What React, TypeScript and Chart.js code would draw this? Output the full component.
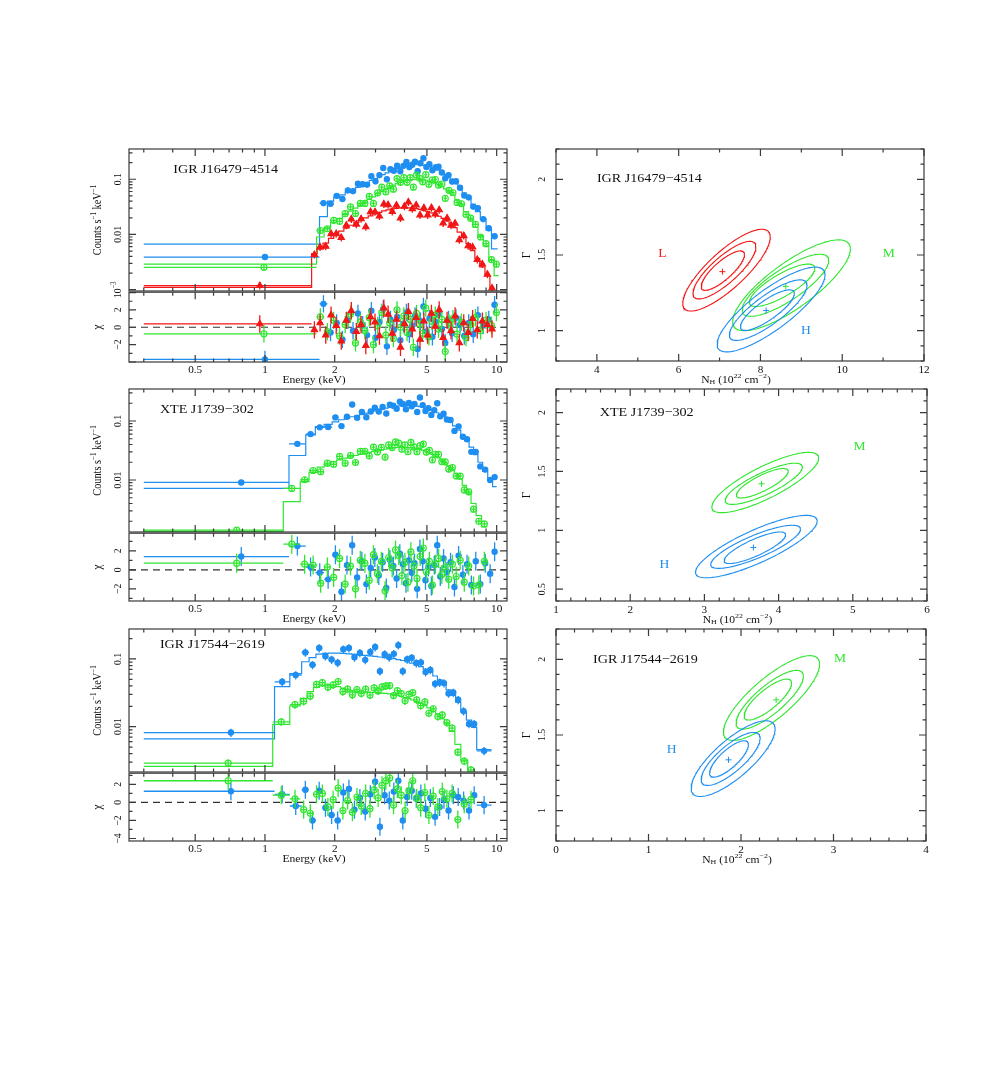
import React, { useEffect, useRef } from 'react';
import { Chart, registerables } from 'chart.js';
Chart.register(...registerables);

// ---------------- colours / fonts ----------------
const BLUE = '#1f8ef1';
const GREEN = '#30e630';
const RED = '#f21616';
const FRAME = '#3a3a3a';
const INK = '#111111';
const SERIF = '"Liberation Serif", "DejaVu Serif", serif';

// ---------------- axis ticks ----------------
const E_MAJOR = [0.5, 1, 2, 5, 10];
const E_MINOR = [0.3, 0.4, 0.6, 0.7, 0.8, 0.9, 3, 4, 6, 7, 8, 9];
const E_LABELS = [[0.5, '0.5'], [1, '1'], [2, '2'], [5, '5'], [10, '10']];
const C_MAJOR = [0.001, 0.01, 0.1];
const C_MINOR = [0.002, 0.003, 0.004, 0.005, 0.006, 0.007, 0.008, 0.009, 0.02, 0.03, 0.04, 0.05, 0.06, 0.07, 0.08, 0.09, 0.2, 0.3];
const C_LABELS_P1 = [[0.001, [['10', 'n'], ['\u22123', 'sup']]], [0.01, '0.01'], [0.1, '0.1']];
const C_LABELS = [[0.01, '0.01'], [0.1, '0.1']];
const CHI_MAJOR = [-4, -2, 0, 2, 4];
const CHI_MINOR = [-3, -1, 1, 3];
const CHI_LABELS = [[-2, '\u22122'], [0, '0'], [2, '2']];
const CHI_LABELS_P3 = [[-4, '\u22124'], [-2, '\u22122'], [0, '0'], [2, '2']];

// ---------------- panel 1 : IGR J16479-4514 (spectra) ----------------
const P1_BLUE_LOWE = 1.0;
const P1_BLUE_ERR = 0.12;
const P1_BLUE_EDGES = [0.3, 1.72, 1.86, 1.98, 2.1, 2.22, 2.34, 2.46, 2.58, 2.7, 2.82, 2.94, 3.06, 3.18, 3.3, 3.42, 3.54, 3.66, 3.78, 3.9, 4.02, 4.14, 4.26, 4.38, 4.5, 4.62, 4.76, 4.9, 5.05, 5.2, 5.36, 5.52, 5.7, 5.9, 6.1, 6.3, 6.55, 6.8, 7.1, 7.4, 7.75, 8.1, 8.5, 9.0, 9.5, 10.1];
const P1_BLUE_MODEL = [0.0067, 0.021, 0.040, 0.047, 0.052, 0.058, 0.064, 0.071, 0.079, 0.087, 0.095, 0.103, 0.112, 0.121, 0.130, 0.139, 0.147, 0.155, 0.162, 0.168, 0.174, 0.178, 0.181, 0.183, 0.183, 0.182, 0.179, 0.175, 0.170, 0.163, 0.155, 0.146, 0.135, 0.123, 0.110, 0.097, 0.083, 0.068, 0.056, 0.045, 0.035, 0.026, 0.019, 0.012, 0.0055];
const P1_BLUE_COUNTS = [0.0039, 0.037, 0.036, 0.050, 0.044, 0.063, 0.061, 0.083, 0.081, 0.080, 0.113, 0.092, 0.119, 0.160, 0.100, 0.152, 0.143, 0.176, 0.140, 0.175, 0.205, 0.166, 0.184, 0.207, 0.140, 0.195, 0.240, 0.167, 0.187, 0.146, 0.164, 0.168, 0.133, 0.104, 0.119, 0.091, 0.092, 0.070, 0.051, 0.047, 0.032, 0.030, 0.019, 0.013, 0.0093];
const P1_BLUE_CHI = [-3.7, 2.7, -0.6, 0.5, -1.4, 0.8, -0.4, 1.6, 0.3, -0.9, 1.9, -1.2, 0.6, 2.1, -2.2, 0.9, -0.3, 1.2, -1.5, 0.4, 1.7, -0.8, 0.2, 1.3, -2.5, 0.7, 2.4, -0.5, 1.0, -1.1, 0.6, 1.5, -0.2, -1.8, 0.9, -0.7, 1.1, 0.3, -1.0, 0.5, -0.8, 1.4, 0.2, 0.9, 2.6];

const P1_GREEN_LOWE = 0.99;
const P1_GREEN_ERR = 0.12;
const P1_GREEN_EDGES = [0.3, 1.67, 1.8, 1.92, 2.04, 2.16, 2.28, 2.4, 2.52, 2.64, 2.76, 2.88, 3.0, 3.13, 3.26, 3.39, 3.52, 3.65, 3.78, 3.91, 4.04, 4.17, 4.3, 4.44, 4.58, 4.72, 4.87, 5.02, 5.18, 5.35, 5.52, 5.7, 5.9, 6.1, 6.35, 6.6, 6.9, 7.2, 7.55, 7.9, 8.3, 8.75, 9.25, 9.75, 10.2];
const P1_GREEN_MODEL = [0.0029, 0.0090, 0.0135, 0.0165, 0.0195, 0.0230, 0.0265, 0.0300, 0.0340, 0.0385, 0.0430, 0.0480, 0.055, 0.060, 0.066, 0.072, 0.078, 0.083, 0.088, 0.092, 0.095, 0.097, 0.099, 0.100, 0.099, 0.098, 0.096, 0.093, 0.089, 0.085, 0.080, 0.074, 0.067, 0.059, 0.051, 0.042, 0.034, 0.026, 0.019, 0.0135, 0.0095, 0.0062, 0.0034, 0.0018];
const P1_GREEN_COUNTS = [0.00254, 0.0118, 0.0127, 0.0180, 0.0172, 0.0238, 0.0315, 0.0240, 0.0365, 0.0365, 0.0490, 0.0365, 0.0565, 0.072, 0.059, 0.076, 0.066, 0.103, 0.088, 0.107, 0.088, 0.107, 0.072, 0.119, 0.104, 0.090, 0.121, 0.081, 0.097, 0.099, 0.078, 0.082, 0.045, 0.063, 0.057, 0.038, 0.036, 0.023, 0.0197, 0.0152, 0.0090, 0.0068, 0.0035, 0.0029];
const P1_GREEN_CHI = [-0.75, 1.2, -0.5, 0.8, -1.0, 0.3, 1.5, -1.8, 0.6, -0.4, 1.1, -2.0, 0.2, 1.7, -0.9, 0.5, -1.3, 2.0, 0.0, 1.3, -0.6, 0.9, -2.3, 1.6, 0.4, -0.7, 2.2, -1.1, 0.7, 1.4, -0.2, 0.9, -2.8, 0.5, 1.0, -0.8, 0.6, -1.2, 0.3, 1.1, -0.4, 0.8, 0.2, 1.7];

const P1_RED_LOWE = 0.95;
const P1_RED_ERR = 0.15;
const P1_RED_EDGES = [0.3, 1.59, 1.68, 1.78, 1.88, 1.98, 2.08, 2.19, 2.3, 2.42, 2.54, 2.66, 2.79, 2.92, 3.05, 3.19, 3.33, 3.47, 3.62, 3.77, 3.92, 4.08, 4.24, 4.41, 4.58, 4.76, 4.94, 5.13, 5.33, 5.54, 5.76, 5.99, 6.23, 6.48, 6.75, 7.05, 7.37, 7.7, 8.05, 8.45, 8.9, 9.35, 9.75];
const P1_RED_MODEL = [0.0011, 0.0045, 0.0055, 0.0070, 0.0085, 0.0100, 0.0115, 0.0130, 0.0147, 0.0165, 0.0183, 0.0200, 0.0218, 0.0235, 0.0252, 0.0267, 0.0280, 0.0290, 0.0298, 0.0303, 0.0305, 0.0304, 0.0300, 0.0293, 0.0284, 0.0273, 0.0260, 0.0246, 0.0231, 0.0214, 0.0196, 0.0176, 0.0155, 0.0133, 0.0110, 0.0088, 0.0068, 0.0051, 0.0037, 0.0026, 0.0018, 0.0011];
const P1_RED_COUNTS = [0.00118, 0.0043, 0.0059, 0.0061, 0.0103, 0.0103, 0.0088, 0.0146, 0.0190, 0.0153, 0.0191, 0.0137, 0.0258, 0.0256, 0.0215, 0.0355, 0.0343, 0.0260, 0.0338, 0.0198, 0.0323, 0.0386, 0.0291, 0.0341, 0.0224, 0.0302, 0.0225, 0.0305, 0.0234, 0.0278, 0.0161, 0.0197, 0.0146, 0.0159, 0.0080, 0.0095, 0.0062, 0.0059, 0.0035, 0.0029, 0.0019, 0.00107];
const P1_RED_CHI = [0.38, -0.3, 0.5, -0.9, 1.4, 0.2, -1.6, 0.8, 1.9, -0.5, 0.3, -2.1, 1.2, 0.6, -1.0, 2.2, 1.5, -0.7, 0.9, -2.3, 0.4, 1.8, -0.2, 1.1, -1.4, 0.7, -0.9, 1.6, 0.1, 2.0, -1.2, 0.8, -0.4, 1.3, -1.8, 0.5, -0.6, 1.0, -0.3, 0.7, 0.3, -0.2];

// ---------------- panel 2 : XTE J1739-302 (spectra) ----------------
const P2_BLUE_LOWE = 0.79;
const P2_BLUE_ERR = 0.10;
const P2_BLUE_EDGES = [0.3, 1.27, 1.5, 1.65, 1.8, 1.95, 2.08, 2.2, 2.32, 2.44, 2.56, 2.68, 2.8, 2.92, 3.04, 3.16, 3.28, 3.4, 3.52, 3.64, 3.76, 3.88, 4.0, 4.12, 4.24, 4.36, 4.48, 4.6, 4.73, 4.86, 5.0, 5.15, 5.3, 5.46, 5.62, 5.8, 6.0, 6.2, 6.45, 6.7, 7.0, 7.3, 7.6, 7.95, 8.3, 8.7, 9.15, 9.6, 10.0];
const P2_BLUE_MODEL = [0.0072, 0.026, 0.058, 0.080, 0.088, 0.097, 0.105, 0.112, 0.118, 0.124, 0.130, 0.136, 0.142, 0.148, 0.154, 0.160, 0.165, 0.170, 0.174, 0.178, 0.181, 0.183, 0.184, 0.184, 0.183, 0.181, 0.178, 0.175, 0.171, 0.166, 0.160, 0.153, 0.146, 0.138, 0.129, 0.119, 0.108, 0.096, 0.083, 0.070, 0.057, 0.046, 0.036, 0.027, 0.020, 0.014, 0.0105, 0.0077];
const P2_BLUE_COUNTS = [0.0091, 0.041, 0.060, 0.078, 0.079, 0.115, 0.082, 0.118, 0.19, 0.114, 0.142, 0.116, 0.145, 0.168, 0.145, 0.173, 0.134, 0.189, 0.181, 0.162, 0.212, 0.194, 0.158, 0.202, 0.178, 0.194, 0.142, 0.250, 0.186, 0.148, 0.165, 0.127, 0.153, 0.20, 0.120, 0.133, 0.106, 0.104, 0.068, 0.081, 0.054, 0.049, 0.030, 0.030, 0.017, 0.015, 0.010, 0.0112];
const P2_BLUE_CHI = [1.4, 2.5, 0.3, -0.3, -1.0, 1.6, -2.3, 0.5, 2.6, -0.8, 0.9, -1.5, 0.2, 1.3, -0.6, 0.8, -1.9, 1.1, 0.4, -0.9, 1.7, 0.6, -1.4, 1.0, -0.3, 0.7, -2.0, 2.2, 0.9, -1.1, 0.3, -1.7, 0.5, 2.6, -0.7, 1.2, -0.2, 0.8, -1.8, 1.5, -0.5, 0.6, -1.6, 0.9, -1.5, 0.7, -0.4, 1.9];

const P2_GREEN_LOWE = 0.755;
const P2_GREEN_ERR = 0.12;
const P2_GREEN_EDGES = [0.3, 1.2, 1.42, 1.55, 1.68, 1.8, 1.92, 2.04, 2.16, 2.28, 2.4, 2.52, 2.64, 2.76, 2.88, 3.0, 3.12, 3.24, 3.36, 3.48, 3.6, 3.72, 3.84, 3.96, 4.08, 4.2, 4.33, 4.46, 4.6, 4.75, 4.9, 5.05, 5.2, 5.36, 5.53, 5.7, 5.9, 6.1, 6.32, 6.56, 6.82, 7.1, 7.4, 7.75, 8.15, 8.6, 9.1];
const P2_GREEN_MODEL = [0.00135, 0.0043, 0.0094, 0.0135, 0.0165, 0.0185, 0.0205, 0.0220, 0.0235, 0.0248, 0.0260, 0.0272, 0.0283, 0.0294, 0.0304, 0.0314, 0.0323, 0.0332, 0.0340, 0.0347, 0.0353, 0.0357, 0.0359, 0.0359, 0.0357, 0.0353, 0.0347, 0.0339, 0.0329, 0.0317, 0.0303, 0.0288, 0.0272, 0.0255, 0.0237, 0.0217, 0.0196, 0.0174, 0.0151, 0.0128, 0.0104, 0.0081, 0.0060, 0.0040, 0.0025, 0.0016];
const P2_GREEN_COUNTS = [0.00142, 0.0072, 0.0101, 0.0145, 0.0138, 0.0193, 0.0185, 0.0252, 0.0193, 0.0260, 0.0198, 0.0305, 0.0307, 0.0255, 0.0362, 0.0299, 0.0358, 0.0245, 0.0393, 0.0355, 0.0442, 0.0421, 0.0333, 0.0393, 0.0301, 0.0433, 0.0364, 0.0302, 0.0384, 0.0405, 0.0296, 0.0319, 0.0220, 0.0273, 0.0271, 0.0204, 0.0203, 0.0153, 0.0162, 0.0117, 0.0116, 0.0068, 0.0063, 0.0032, 0.0020, 0.0018];
const P2_GREEN_CHI = [0.7, 2.7, 0.6, 0.5, -1.4, 0.3, -0.8, 1.2, -1.5, 0.4, -2.0, 1.0, 0.7, -1.1, 1.6, -0.4, 0.9, -2.2, 1.3, 0.2, 2.1, 1.5, -0.6, 0.8, -1.3, 1.9, 0.4, -0.9, 1.4, 2.3, -0.2, 0.9, -1.6, 0.6, 1.2, -0.5, 0.3, -1.0, 0.6, -0.7, 1.0, -1.3, 0.4, -1.7, -1.6, 0.9];

// ---------------- panel 3 : IGR J17544-2619 (spectra) ----------------
const P3_BLUE_LOWE = 0.713;
const P3_BLUE_ERR = 0.14;
const P3_BLUE_EDGES = [0.3, 1.1, 1.28, 1.44, 1.55, 1.66, 1.77, 1.88, 2.0, 2.12, 2.24, 2.37, 2.5, 2.64, 2.78, 2.92, 3.06, 3.21, 3.36, 3.52, 3.68, 3.85, 4.02, 4.2, 4.4, 4.6, 4.82, 5.05, 5.3, 5.55, 5.8, 6.05, 6.35, 6.65, 7.0, 7.4, 7.8, 8.2, 9.5];
const P3_BLUE_MODEL = [0.0066, 0.039, 0.061, 0.091, 0.105, 0.118, 0.121, 0.122, 0.122, 0.121, 0.119, 0.117, 0.115, 0.113, 0.111, 0.109, 0.107, 0.105, 0.103, 0.101, 0.098, 0.095, 0.091, 0.087, 0.082, 0.077, 0.071, 0.064, 0.056, 0.049, 0.042, 0.035, 0.029, 0.023, 0.0165, 0.0125, 0.0098, 0.0046];
const P3_BLUE_COUNTS = [0.0082, 0.046, 0.058, 0.125, 0.082, 0.145, 0.110, 0.098, 0.088, 0.139, 0.145, 0.106, 0.123, 0.097, 0.127, 0.150, 0.066, 0.118, 0.106, 0.119, 0.160, 0.066, 0.099, 0.104, 0.087, 0.089, 0.064, 0.069, 0.043, 0.045, 0.044, 0.031, 0.032, 0.025, 0.017, 0.011, 0.011, 0.0044];
const P3_BLUE_CHI = [1.24, 0.9, -0.4, 1.4, -2.0, 1.3, -0.6, -1.4, -2.0, 1.1, 1.5, -0.8, 0.5, -1.0, 0.9, 2.3, -2.7, 0.8, 0.2, 1.2, 2.4, -2.0, 0.6, 1.3, 0.4, 1.0, -0.7, 0.5, -1.6, -0.5, 0.3, -0.9, 0.8, 0.6, 0.2, -0.9, 0.8, -0.3];

const P3_GREEN_LOWE = 0.694;
const P3_GREEN_ERR = 0.13;
const P3_GREEN_EDGES = [0.3, 1.08, 1.28, 1.42, 1.52, 1.62, 1.72, 1.82, 1.92, 2.02, 2.12, 2.22, 2.33, 2.44, 2.55, 2.66, 2.78, 2.9, 3.02, 3.14, 3.26, 3.39, 3.52, 3.66, 3.8, 3.95, 4.1, 4.26, 4.43, 4.6, 4.8, 5.0, 5.2, 5.45, 5.7, 5.95, 6.25, 6.6, 7.0, 7.5, 8.0];
const P3_GREEN_MODEL = [0.0026, 0.0108, 0.0202, 0.0262, 0.033, 0.038, 0.040, 0.041, 0.040, 0.039, 0.037, 0.035, 0.034, 0.033, 0.0325, 0.032, 0.032, 0.032, 0.0318, 0.0314, 0.031, 0.0305, 0.030, 0.029, 0.028, 0.027, 0.026, 0.0248, 0.0235, 0.022, 0.0205, 0.019, 0.017, 0.015, 0.013, 0.011, 0.0085, 0.0055, 0.0032, 0.0022];
const P3_GREEN_COUNTS = [0.0029, 0.0118, 0.0212, 0.0237, 0.0283, 0.0421, 0.0448, 0.0385, 0.0415, 0.0465, 0.0330, 0.0358, 0.0295, 0.0354, 0.0310, 0.0358, 0.0293, 0.0374, 0.0337, 0.0386, 0.040, 0.0405, 0.0289, 0.0342, 0.0307, 0.0241, 0.0301, 0.0319, 0.0249, 0.0204, 0.0232, 0.0158, 0.0184, 0.0141, 0.0149, 0.0115, 0.0095, 0.0042, 0.0031, 0.0023];
const P3_GREEN_CHI = [2.4, 0.8, 0.4, -0.8, -1.2, 0.9, 1.0, -0.5, 0.3, 1.6, -0.9, 0.2, -1.1, 0.6, -0.4, 1.0, -0.7, 1.4, 0.5, 1.9, 2.4, 2.7, -0.3, 1.5, 0.8, -0.9, 1.3, 2.4, 0.5, -0.6, 1.1, -1.4, 0.7, -0.5, 1.2, 0.4, 1.0, -1.9, -0.2, 0.3];

// ---------------- contours: rows = [centre NH, centre Gamma, half-width NH, half-height Gamma] ----------------
const R1_L_CONT = [[7.17, 1.40, 1.07, 0.27], [7.12, 1.40, 0.77, 0.19], [7.08, 1.397, 0.53, 0.13]];
const R1_M_CONT = [[8.76, 1.30, 1.44, 0.30], [8.61, 1.30, 1.06, 0.205], [8.53, 1.30, 0.80, 0.14]];
const R1_H_CONT = [[8.26, 1.14, 1.32, 0.28], [8.19, 1.136, 0.95, 0.20], [8.17, 1.136, 0.66, 0.134]];
const R1_RHO = [0.81, 0.8, 0.82];
const R1_BEST = [[7.07, 1.39], [8.62, 1.293], [8.14, 1.134]];

const R2_M_CONT = [[3.82, 1.406, 0.72, 0.256], [3.80, 1.395, 0.52, 0.175], [3.78, 1.40, 0.35, 0.125]];
const R2_H_CONT = [[3.70, 0.862, 0.82, 0.265], [3.69, 0.86, 0.605, 0.183], [3.68, 0.852, 0.415, 0.134]];
const R2_RHO = [0.81, 0.82];
const R2_BEST = [[3.77, 1.395], [3.66, 0.854]];

const R3_M_CONT = [[2.33, 1.744, 0.52, 0.28], [2.31, 1.733, 0.364, 0.194], [2.29, 1.734, 0.257, 0.135]];
const R3_H_CONT = [[1.915, 1.344, 0.454, 0.25], [1.888, 1.342, 0.319, 0.175], [1.87, 1.342, 0.21, 0.12]];
const R3_RHO = [0.8, 0.78];
const R3_BEST = [[2.38, 1.732], [1.865, 1.336]];

// ---------------- helpers ----------------
const steps = (a, b, s) => {
  const out = [];
  for (let i = 0; a + i * s <= b + 1e-9; i++) out.push(Math.round((a + i * s) * 1000) / 1000);
  return out;
};

function font(size) {
  return `${size}px ${SERIF}`;
}

function toSegs(t) {
  return typeof t === 'string' ? [[t, 'n']] : t;
}

// text style: size, stretch along text (sx), stretch across text (sy)
const TICK_H = { size: 9.6, sx: 1.17, sy: 1 };
const TICK_V = { size: 9.6, sx: 1, sy: 1.17 };
const XTITLE = { size: 10, sx: 1.16, sy: 1 };
const YTITLE_COUNTS = { size: 10.3, sx: 1, sy: 1.15 };
const YTITLE_SYM = { size: 11, sx: 1, sy: 1.15 };
const NAME = { size: 12.5, sx: 1.13, sy: 1 };
const LETTER = { size: 11.5, sx: 1.18, sy: 1 };

function drawRich(ctx, segsIn, x, y, st, align, rot, color) {
  const segs = toSegs(segsIn);
  const size = st.size;
  ctx.save();
  ctx.translate(x, y);
  ctx.rotate(rot || 0);
  ctx.scale(st.sx, st.sy);
  ctx.fillStyle = color || INK;
  ctx.textBaseline = 'middle';
  ctx.textAlign = 'left';
  const widths = segs.map(([t, k]) => {
    ctx.font = font(k === 'n' ? size : size * 0.68);
    return ctx.measureText(t).width;
  });
  const total = widths.reduce((a, b) => a + b, 0);
  let cx = align === 'left' ? 0 : align === 'right' ? -total : -total / 2;
  segs.forEach(([t, k], i) => {
    ctx.font = font(k === 'n' ? size : size * 0.68);
    const dy = k === 'sup' ? -size * 0.36 : k === 'sub' ? size * 0.25 : 0;
    ctx.fillText(t, cx, dy);
    cx += widths[i];
  });
  ctx.restore();
}

function makePlugin(spec) {
  return {
    id: 'xspecFrame',
    beforeDatasetsDraw(chart) {
      if (!spec.zero) return;
      const { ctx, chartArea: a, scales } = chart;
      const y0 = scales.y.getPixelForValue(0);
      ctx.save();
      ctx.strokeStyle = '#333';
      ctx.lineWidth = 1.1;
      ctx.setLineDash([7, 5]);
      ctx.beginPath();
      ctx.moveTo(a.left, y0);
      ctx.lineTo(a.right, y0);
      ctx.stroke();
      ctx.restore();
    },
    beforeDatasetDraw(chart, args) {
      const ds = chart.data.datasets[args.index];
      if (!ds || !ds.errColor) return;
      const { ctx, chartArea: a, scales } = chart;
      const xs = scales.x;
      const ys = scales.y;
      ctx.save();
      ctx.beginPath();
      ctx.rect(a.left, a.top, a.right - a.left, a.bottom - a.top);
      ctx.clip();
      ctx.strokeStyle = ds.errColor;
      ctx.lineWidth = 1.3;
      ctx.beginPath();
      for (const p of ds.data) {
        const px = xs.getPixelForValue(p.x);
        const py = ys.getPixelForValue(p.y);
        ctx.moveTo(xs.getPixelForValue(p.xl), py);
        ctx.lineTo(xs.getPixelForValue(p.xh), py);
        ctx.moveTo(px, ys.getPixelForValue(p.yl));
        ctx.lineTo(px, ys.getPixelForValue(p.yh));
      }
      ctx.stroke();
      ctx.restore();
    },
    afterDraw(chart) {
      const { ctx, chartArea: a, scales } = chart;
      const xs = scales.x;
      const ys = scales.y;
      const maj = spec.maj || 7;
      const min = spec.min || 3.5;
      ctx.save();
      ctx.strokeStyle = FRAME;
      ctx.lineWidth = 1.2;
      ctx.strokeRect(a.left, a.top, a.right - a.left, a.bottom - a.top);
      ctx.beginPath();
      const xt = (vals, len) => {
        for (const v of vals) {
          const p = xs.getPixelForValue(v);
          if (p < a.left - 0.5 || p > a.right + 0.5) continue;
          ctx.moveTo(p, a.bottom);
          ctx.lineTo(p, a.bottom - len);
          ctx.moveTo(p, a.top);
          ctx.lineTo(p, a.top + len);
        }
      };
      const yt = (vals, len) => {
        for (const v of vals) {
          const p = ys.getPixelForValue(v);
          if (p < a.top - 0.5 || p > a.bottom + 0.5) continue;
          ctx.moveTo(a.left, p);
          ctx.lineTo(a.left + len, p);
          ctx.moveTo(a.right, p);
          ctx.lineTo(a.right - len, p);
        }
      };
      xt(spec.xMajor, maj);
      xt(spec.xMinor, min);
      yt(spec.yMajor, maj);
      yt(spec.yMinor, min);
      ctx.stroke();
      ctx.restore();

      if (spec.xLabels) {
        for (const [v, t] of spec.xLabels) {
          drawRich(ctx, t, xs.getPixelForValue(v), a.bottom + spec.xLabelDy, TICK_H, 'center', 0);
        }
      }
      if (spec.yLabels) {
        for (const [v, t] of spec.yLabels) {
          drawRich(ctx, t, a.left - spec.yLabelDx, ys.getPixelForValue(v), TICK_V, 'center', -Math.PI / 2);
        }
      }
      if (spec.xTitle) {
        drawRich(ctx, spec.xTitle, (a.left + a.right) / 2 + (spec.xTitleDx || 0), a.bottom + spec.xTitleDy, XTITLE, 'center', 0);
      }
      if (spec.yTitle) {
        drawRich(ctx, spec.yTitle, a.left - spec.yTitleDx, (a.top + a.bottom) / 2, spec.yTitleStyle || YTITLE_SYM, 'center', -Math.PI / 2);
      }
      for (const n of spec.notes || []) {
        drawRich(ctx, n.text, xs.getPixelForValue(n.x), ys.getPixelForValue(n.y), n.style, n.align, 0, n.color);
      }
    },
  };
}

function centersOf(edges, lowE, n) {
  const c = [];
  for (let i = 0; i < n; i++) c.push(i === 0 ? lowE : Math.sqrt(edges[i] * edges[i + 1]));
  return c;
}

function pointsDataset(s, values, errFn) {
  const n = Math.min(values.length, s.edges.length - 1);
  const c = centersOf(s.edges, s.lowE, n);
  const data = c.map((x, i) => {
    const y = values[i];
    const [yl, yh] = errFn(y);
    return { x, y, xl: s.edges[i], xh: s.edges[i + 1], yl, yh };
  });
  return {
    data,
    showLine: false,
    pointStyle: s.shape,
    pointRadius: s.radius,
    pointBackgroundColor: s.filled ? s.color : 'rgba(255,255,255,0)',
    pointBorderColor: s.color,
    pointBorderWidth: 1.2,
    borderColor: s.color,
    errColor: s.color,
  };
}

function modelDataset(s) {
  const n = Math.min(s.model.length, s.edges.length - 1);
  const data = s.edges.slice(0, n + 1).map((e, i) => ({ x: e, y: s.model[Math.min(i, n - 1)] }));
  return {
    data,
    showLine: true,
    stepped: true,
    borderColor: s.color,
    borderWidth: 1.2,
    pointRadius: 0,
    fill: false,
    tension: 0,
  };
}

function ellipse(row, rho) {
  const [cx, cy, sx, sy] = row;
  const k = Math.sqrt(1 - rho * rho);
  const pts = [];
  for (let i = 0; i <= 180; i++) {
    const t = (i / 180) * Math.PI * 2;
    pts.push({ x: cx + sx * Math.cos(t), y: cy + sy * (rho * Math.cos(t) + k * Math.sin(t)) });
  }
  return pts;
}

function baseConfig(datasets, pad, xScale, yScale, spec) {
  return {
    type: 'line',
    data: { datasets },
    options: {
      responsive: false,
      animation: false,
      devicePixelRatio: 1,
      events: [],
      layout: { padding: pad },
      plugins: { legend: { display: false }, tooltip: { enabled: false }, title: { display: false } },
      scales: {
        x: { ...xScale, display: false },
        y: { ...yScale, display: false },
      },
    },
    plugins: [makePlugin(spec)],
  };
}

// ---------------- panel descriptors ----------------
const LEFT = 129;
const RIGHT = 507;
const E_MIN = 0.259;
const E_MAX = 11.08;

const COUNTS_TITLE = [['Counts s', 'n'], ['\u22121', 'sup'], [' keV', 'n'], ['\u22121', 'sup']];
const NH_TITLE = [['N', 'n'], ['H', 'sub'], [' (10', 'n'], ['22', 'sup'], [' cm', 'n'], ['\u22122', 'sup'], [')', 'n']];

function mkSeries(edges, lowE, counts, model, chi, frac, color, shape, radius, filled) {
  return { edges, lowE, counts, model, chi, frac, color, shape, radius, filled };
}

function spectrumPanels(series, top, mid, bottom, yMin, yMax, chiMin, chiMax, cLabels, chiLabels, title) {
  const upM = { l: 52, r: 12, t: 12, b: 14 };
  const loM = { l: 52, r: 12, t: 4, b: 36 };
  const upper = {
    x: LEFT - upM.l,
    y: top - upM.t,
    w: RIGHT - LEFT + upM.l + upM.r,
    h: mid - top + upM.t + upM.b,
    make: () => {
      const rev = [...series].reverse();
      const ds = [
        ...rev.map((s) => pointsDataset(s, s.counts, (y) => [y * (1 - s.frac), y * (1 + s.frac)])),
        ...rev.map((s) => modelDataset(s)),
      ];
      return baseConfig(
        ds,
        { left: upM.l, right: upM.r, top: upM.t, bottom: upM.b },
        { type: 'logarithmic', min: E_MIN, max: E_MAX },
        { type: 'logarithmic', min: yMin, max: yMax },
        {
          xMajor: E_MAJOR,
          xMinor: E_MINOR,
          yMajor: C_MAJOR,
          yMinor: C_MINOR,
          yLabels: cLabels,
          yLabelDx: 11,
          yTitle: COUNTS_TITLE,
          yTitleDx: 31,
          yTitleStyle: YTITLE_COUNTS,
          notes: [title],
        }
      );
    },
  };
  const lower = {
    x: LEFT - loM.l,
    y: mid - loM.t,
    w: RIGHT - LEFT + loM.l + loM.r,
    h: bottom - mid + loM.t + loM.b,
    make: () => {
      const rev = [...series].reverse();
      const ds = rev.map((s) => pointsDataset(s, s.chi, (y) => [y - 1, y + 1]));
      return baseConfig(
        ds,
        { left: loM.l, right: loM.r, top: loM.t, bottom: loM.b },
        { type: 'logarithmic', min: E_MIN, max: E_MAX },
        { type: 'linear', min: chiMin, max: chiMax },
        {
          xMajor: E_MAJOR,
          xMinor: E_MINOR,
          yMajor: CHI_MAJOR,
          yMinor: CHI_MINOR,
          xLabels: E_LABELS,
          xLabelDy: 8,
          yLabels: chiLabels,
          yLabelDx: 11,
          xTitle: 'Energy (keV)',
          xTitleDy: 18.5,
          xTitleDx: -4,
          yTitle: '\u03c7',
          yTitleDx: 31,
          zero: true,
        }
      );
    },
  };
  return [upper, lower];
}

function contourPanel(groups, top, bottom, right, xMin, xMax, yMin, yMax, xMajor, xMinor, yMajor, yMinor, notes) {
  const m = { l: 40, r: 12, t: 12, b: 36 };
  const left = 556;
  return {
    x: left - m.l,
    y: top - m.t,
    w: right - left + m.l + m.r,
    h: bottom - top + m.t + m.b,
    make: () => {
      const ds = [];
      for (const g of groups) {
        for (const row of g.rows) {
          ds.push({ data: ellipse(row, g.rho), showLine: true, borderColor: g.color, borderWidth: 1.1, pointRadius: 0, fill: false, tension: 0 });
        }
        ds.push({
          data: [{ x: g.best[0], y: g.best[1] }],
          showLine: false,
          pointStyle: 'cross',
          pointRadius: 3,
          pointBorderColor: g.color,
          pointBorderWidth: 1,
          borderColor: g.color,
        });
      }
      return baseConfig(
        ds,
        { left: m.l, right: m.r, top: m.t, bottom: m.b },
        { type: 'linear', min: xMin, max: xMax },
        { type: 'linear', min: yMin, max: yMax },
        {
          xMajor,
          xMinor,
          yMajor,
          yMinor,
          maj: 7,
          min: 3.5,
          xLabels: xMajor.map((v) => [v, String(v)]),
          xLabelDy: 9.5,
          yLabels: yMajor.map((v) => [v, String(v)]),
          yLabelDx: 14,
          xTitle: NH_TITLE,
          xTitleDy: 19,
          xTitleDx: -4,
          yTitle: '\u0393',
          yTitleDx: 29,
          notes,
        }
      );
    },
  };
}

const titleNote = (x, y, text) => ({ x, y, text, style: NAME, align: 'left', color: INK });
const letterNote = (x, y, text, color) => ({ x, y, text, style: LETTER, align: 'center', color });

const S1 = [
  mkSeries(P1_BLUE_EDGES, P1_BLUE_LOWE, P1_BLUE_COUNTS, P1_BLUE_MODEL, P1_BLUE_CHI, P1_BLUE_ERR, BLUE, 'circle', 2.6, true),
  mkSeries(P1_GREEN_EDGES, P1_GREEN_LOWE, P1_GREEN_COUNTS, P1_GREEN_MODEL, P1_GREEN_CHI, P1_GREEN_ERR, GREEN, 'circle', 3.0, false),
  mkSeries(P1_RED_EDGES, P1_RED_LOWE, P1_RED_COUNTS, P1_RED_MODEL, P1_RED_CHI, P1_RED_ERR, RED, 'triangle', 3.6, true),
];
const S2 = [
  mkSeries(P2_BLUE_EDGES, P2_BLUE_LOWE, P2_BLUE_COUNTS, P2_BLUE_MODEL, P2_BLUE_CHI, P2_BLUE_ERR, BLUE, 'circle', 2.6, true),
  mkSeries(P2_GREEN_EDGES, P2_GREEN_LOWE, P2_GREEN_COUNTS, P2_GREEN_MODEL, P2_GREEN_CHI, P2_GREEN_ERR, GREEN, 'circle', 3.0, false),
];
const S3 = [
  mkSeries(P3_BLUE_EDGES, P3_BLUE_LOWE, P3_BLUE_COUNTS, P3_BLUE_MODEL, P3_BLUE_CHI, P3_BLUE_ERR, BLUE, 'circle', 2.6, true),
  mkSeries(P3_GREEN_EDGES, P3_GREEN_LOWE, P3_GREEN_COUNTS, P3_GREEN_MODEL, P3_GREEN_CHI, P3_GREEN_ERR, GREEN, 'circle', 3.0, false),
];

const PANELS = [
  ...spectrumPanels(S1, 149, 291, 362, 0.000947, 0.353, -4.0, 4.04, C_LABELS_P1, CHI_LABELS, titleNote(0.402, 0.1516, 'IGR J16479\u22124514')),
  ...spectrumPanels(S2, 389, 532, 601, 0.001315, 0.3486, -3.28, 3.86, C_LABELS, CHI_LABELS, titleNote(0.352, 0.1536, 'XTE J1739\u2212302')),
  ...spectrumPanels(S3, 629, 772, 841, 0.002143, 0.277, -4.28, 3.24, C_LABELS, CHI_LABELS_P3, titleNote(0.352, 0.161, 'IGR J17544\u22122619')),
  contourPanel(
    [
      { rows: R1_L_CONT, rho: R1_RHO[0], best: R1_BEST[0], color: RED },
      { rows: R1_H_CONT, rho: R1_RHO[2], best: R1_BEST[2], color: BLUE },
      { rows: R1_M_CONT, rho: R1_RHO[1], best: R1_BEST[1], color: GREEN },
    ],
    149, 361, 924, 3, 12, 0.8, 2.2,
    [4, 6, 8, 10, 12], steps(3, 11, 2), [1, 1.5, 2], steps(0.8, 2.2, 0.1),
    [titleNote(4.0, 2.007, 'IGR J16479\u22124514'), letterNote(5.6, 1.505, 'L', RED), letterNote(11.14, 1.505, 'M', GREEN), letterNote(9.11, 0.998, 'H', BLUE)]
  ),
  contourPanel(
    [
      { rows: R2_H_CONT, rho: R2_RHO[1], best: R2_BEST[1], color: BLUE },
      { rows: R2_M_CONT, rho: R2_RHO[0], best: R2_BEST[0], color: GREEN },
    ],
    389, 601, 927, 1, 6, 0.4, 2.2,
    [1, 2, 3, 4, 5, 6], steps(1, 6, 0.2), [0.5, 1, 1.5, 2], steps(0.4, 2.2, 0.1),
    [titleNote(1.59, 2.0, 'XTE J1739\u2212302'), letterNote(5.09, 1.707, 'M', GREEN), letterNote(2.46, 0.705, 'H', BLUE)]
  ),
  contourPanel(
    [
      { rows: R3_H_CONT, rho: R3_RHO[1], best: R3_BEST[1], color: BLUE },
      { rows: R3_M_CONT, rho: R3_RHO[0], best: R3_BEST[0], color: GREEN },
    ],
    629, 841, 926, 0, 4, 0.8, 2.2,
    [0, 1, 2, 3, 4], steps(0, 4, 0.2), [1, 1.5, 2], steps(0.8, 2.2, 0.1),
    [titleNote(0.40, 2.0, 'IGR J17544\u22122619'), letterNote(3.07, 2.0, 'M', GREEN), letterNote(1.25, 1.40, 'H', BLUE)]
  ),
];

function ChartBox({ x, y, w, h, make }) {
  const ref = useRef(null);
  useEffect(() => {
    const chart = new Chart(ref.current, make());
    return () => chart.destroy();
  }, []);
  return (
    <canvas
      ref={ref}
      width={w}
      height={h}
      style={{ position: 'absolute', left: x, top: y, width: w, height: h, display: 'block' }}
    />
  );
}

export default function App() {
  return (
    <div style={{ position: 'absolute', left: 0, top: 0, width: 981, height: 1090, background: '#ffffff', overflow: 'hidden' }}>
      {PANELS.map((p, i) => (
        <ChartBox key={i} {...p} />
      ))}
    </div>
  );
}
